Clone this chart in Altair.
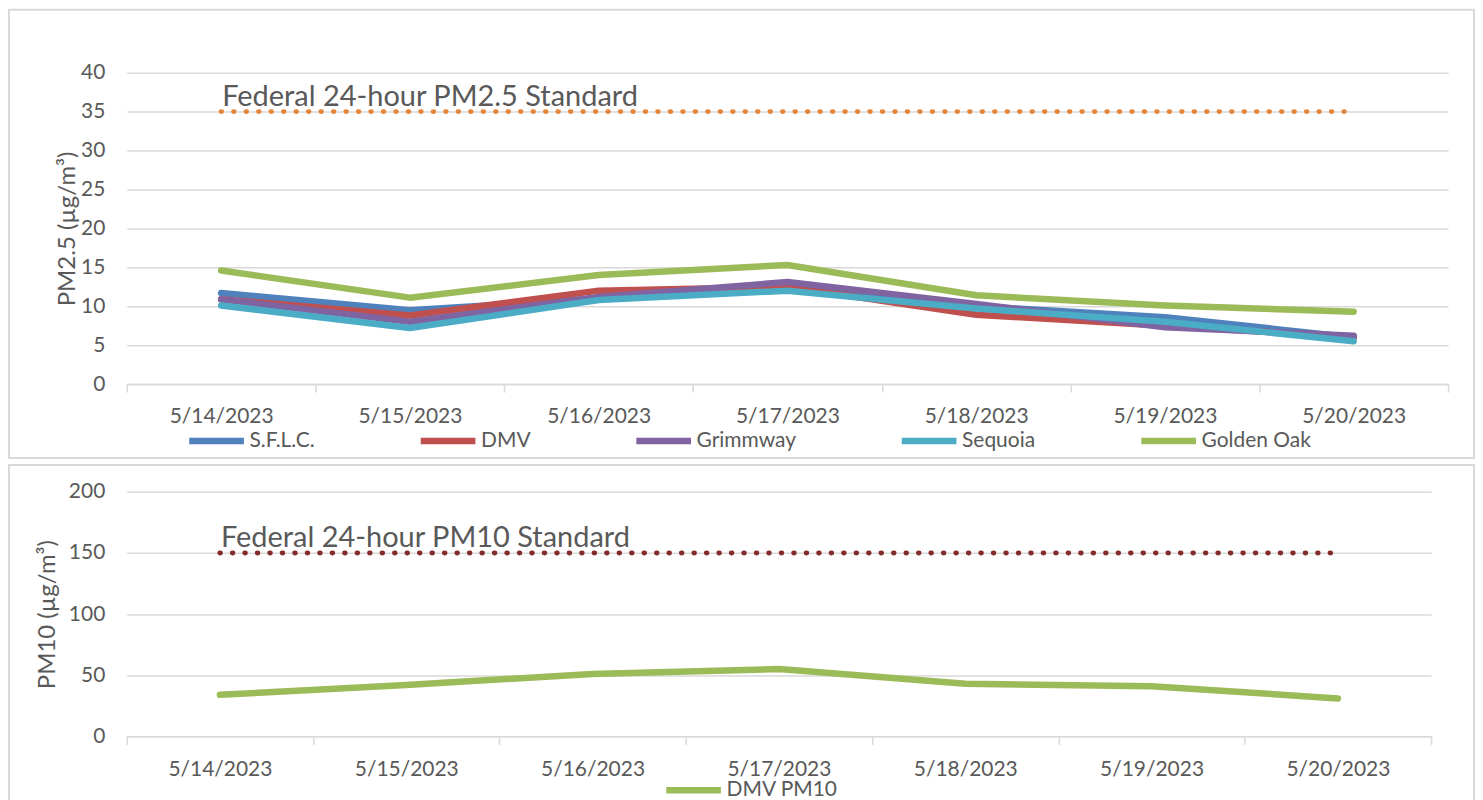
import altair as alt
import pandas as pd

# ---------------- data ----------------
dates = ["5/14/2023", "5/15/2023", "5/16/2023", "5/17/2023",
         "5/18/2023", "5/19/2023", "5/20/2023"]
sites = ["S.F.L.C.", "DMV", "Grimmway", "Sequoia", "Golden Oak"]
site_colors = ["#4F81BD", "#C0504D", "#8064A2", "#4BACC6", "#9BBB59"]

sflc = [11.7, 9.5, 11.0, 12.3, 10.0, 8.6, 6.0]
dmv = [10.9, 8.8, 12.0, 12.5, 8.9, 7.5, 6.0]
grimmway = [10.9, 8.0, 11.2, 13.1, 10.3, 7.3, 6.2]
sequoia = [10.1, 7.2, 10.8, 12.0, 9.7, 8.0, 5.5]
golden_oak = [14.6, 11.1, 14.0, 15.3, 11.4, 10.1, 9.3]

dmv_pm10 = [34, 42, 51, 55, 43, 41, 31]

pm25_standard = 35
pm10_standard = 150
pm25_std_label = "Federal 24-hour PM2.5 Standard"
pm10_std_label = "Federal 24-hour PM10 Standard"

pm25_ticks = [0, 5, 10, 15, 20, 25, 30, 35, 40]
pm10_ticks = [0, 50, 100, 150, 200]

# ---------------- tables ----------------
series = [sflc, dmv, grimmway, sequoia, golden_oak]
pm25_rows = []
for i, (s, vals) in enumerate(zip(sites, series)):
    for d, v in zip(dates, vals):
        pm25_rows.append({"date": d, "site": s, "value": v, "order": i})
pm25_df = pd.DataFrame(pm25_rows)

pm10_df = pd.DataFrame({"date": dates, "site": ["DMV PM10"] * len(dates),
                        "value": dmv_pm10, "order": [0] * len(dates)})

std25_df = pd.DataFrame({"date": dates, "value": [pm25_standard] * len(dates)})
std10_df = pd.DataFrame({"date": dates, "value": [pm10_standard] * len(dates)})
lab25_df = pd.DataFrame({"date": [dates[0]], "value": [pm25_standard],
                         "label": [pm25_std_label]})
lab10_df = pd.DataFrame({"date": [dates[0]], "value": [pm10_standard],
                         "label": [pm10_std_label]})
frame_df = pd.DataFrame({"k": [0]})

FONT = "Lato"
TXT = "#595959"
GRID = "#D9D9D9"


def x_enc():
    return alt.X("date:N", sort=dates,
                 scale=alt.Scale(type="band", domain=dates,
                                 paddingInner=0, paddingOuter=0),
                 axis=alt.Axis(title=None, labelAngle=0, labelFontSize=21,
                               labelColor=TXT, labelFont=FONT,
                               labelOverlap=False,
                               labelPadding=14, tickBand="extent",
                               ticks=True, tickSize=8, tickColor=GRID,
                               tickWidth=1.5, domainColor=GRID,
                               domainWidth=1.5, grid=False))


def y_enc(ticks, ydomain, ytitle, title_pad):
    return alt.Y("value:Q",
                 scale=alt.Scale(domain=ydomain, nice=False, zero=True),
                 axis=alt.Axis(values=ticks, title=ytitle, titleFontSize=24,
                               titleFont=FONT, titleColor=TXT,
                               titleFontWeight="normal",
                               titlePadding=title_pad,
                               labelFontSize=21, labelFont=FONT,
                               labelColor=TXT, labelOverlap=False,
                               labelPadding=22, domain=False, ticks=False,
                               grid=True, gridColor=GRID, gridWidth=1.5))


def panel(df, ticks, ydomain, ytitle, title_pad, legend, std_df, lab_df,
          std_color, width, height, frame):
    lines = alt.Chart(df).mark_line(strokeWidth=6.5, strokeCap="round",
                                    strokeJoin="round").encode(
        x=x_enc(), y=y_enc(ticks, ydomain, ytitle, title_pad),
        color=alt.Color("site:N", sort=legend["domain"],
                        scale=alt.Scale(domain=legend["domain"],
                                        range=legend["range"]),
                        legend=alt.Legend(
                            orient="none", legendX=legend["x"],
                            legendY=legend["y"], direction="horizontal",
                            columns=len(legend["domain"]), title=None,
                            symbolType="stroke", symbolStrokeWidth=6.5,
                            symbolSize=3000, labelFontSize=21,
                            labelFont=FONT, labelColor=TXT, labelOffset=2,
                            columnPadding=legend["pad"])),
        order=alt.Order("order:Q"))
    std = alt.Chart(std_df).mark_line(
        color=std_color, strokeWidth=5, strokeCap="round",
        strokeDash=[0.5, 12]).encode(
        x=x_enc(), y=y_enc(ticks, ydomain, ytitle, title_pad))
    lab = alt.Chart(lab_df).mark_text(
        align="left", baseline="alphabetic", dx=1, dy=-6, fontSize=29,
        font=FONT, color=TXT).encode(
        x=x_enc(), y=y_enc(ticks, ydomain, ytitle, title_pad),
        text="label:N")
    box = alt.Chart(frame_df).mark_rect(
        fill="transparent", stroke=GRID, strokeWidth=2).encode(
        x=alt.value(frame[0]), x2=alt.value(frame[1]),
        y=alt.value(frame[2]), y2=alt.value(frame[3]))
    return alt.layer(box, std, lab, lines).properties(width=width,
                                                       height=height)


top = panel(pm25_df, pm25_ticks, [0, 40], "PM2.5 (µg/m³)", 1,
            {"domain": sites, "range": site_colors, "x": 59, "y": 338,
             "pad": 92},
            std25_df, lab25_df, "#E5853A", 1324, 312,
            (-118, 1350, -63, 386))

bottom = panel(pm10_df, pm10_ticks, [0, 200], "PM10 (µg/m³)", 9,
               {"domain": ["DMV PM10"], "range": ["#9BBB59"], "x": 537,
                "y": 268, "pad": 10},
               std10_df, lab10_df, "#832C2C", 1307, 245,
               (-118, 1350, -27, 330))

chart = alt.vconcat(
    top, bottom, spacing=5,
    padding={"left": 0, "top": 0, "right": 0, "bottom": 0},
    background="white").resolve_scale(
    color="independent", x="independent", y="independent").resolve_legend(
    color="independent").configure_view(stroke=None)

chart.save("out.html", embed_options={"renderer": "svg", "actions": False})
